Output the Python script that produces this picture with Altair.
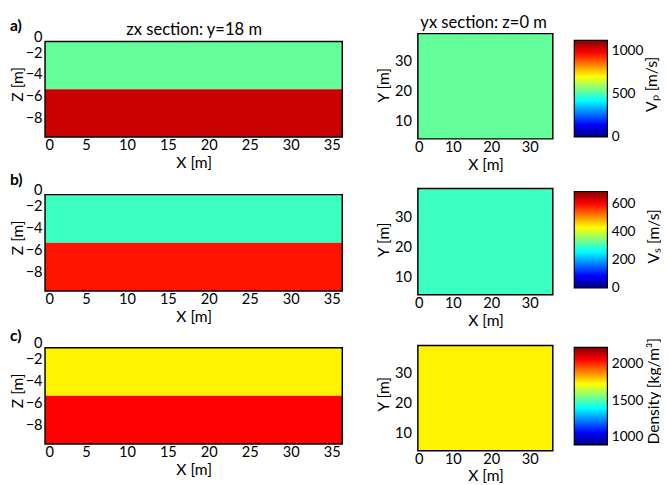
import altair as alt
import pandas as pd

# ---------------- data ----------------
x_left_extent = [0.0, 36.3]          # zx section, X range [m]
z_layer_top = [-1.0, -5.4]           # layer tops [m]
z_layer_bot = [-5.4, -9.8]           # layer bottoms [m]
x_right_extent = [0.9, 36.0]         # yx section, X range [m]
y_right_extent = [3.8, 39.2]         # yx section, Y range [m]

vp_layers = [530, 1040]              # m/s
vs_layers = [300, 590]               # m/s
rho_layers = [1740, 2060]            # kg/m^3

vp_range = [0, 1120]
vs_range = [0, 690]
rho_range = [880, 2230]

vp_ticks = [0, 500, 1000]
vs_ticks = [0, 200, 400, 600]
rho_ticks = [1000, 1500, 2000]

x_ticks_left = [0, 5, 10, 15, 20, 25, 30, 35]
z_ticks = [0, -2, -4, -6, -8]
x_ticks_right = [0, 10, 20, 30]
y_ticks_right = [10, 20, 30]

panel_labels = ["a)", "b)", "c)"]
cbar_titles = ["Vₚ [m/s]", "Vₛ [m/s]", "Density [kg/m³]"]
zx_title = "zx section: y=18 m"
yx_title = "yx section: z=0 m"

jet_colors = ["#000080", "#0000ff", "#00ffff", "#ffff00", "#ff0000", "#800000"]
jet_stops = [0, 0.125, 0.375, 0.625, 0.875, 1.0]

FONT = "Lato"

# ---------------- layout (pixels) ----------------
left_rect_h = [98, 99, 99]
right_ext = [3, 5, 9]          # blank band above the yx frame
right_frame_h = [108, 109, 108]
cb_top_off = [10, 8, 11]
cb_h = [99, 99, 100]
cb_title_x = [37, 39, 39]
label_off = [-13, -5, -8]
LEFT_RECT_W, LEFT_EXTRA_W = 305, 14
RIGHT_W, CB_W = 142, 34
X_TITLE_Y = 18


def color_scale(rng):
    dom = [rng[0] + s * (rng[1] - rng[0]) for s in jet_stops]
    return alt.Scale(domain=dom, range=jet_colors, interpolate="rgb")


def left_chart(values, rng, i):
    zlo, zhi = z_layer_bot[-1], z_layer_top[0]
    ppu = left_rect_h[i] / (zhi - zlo)
    height = round(left_rect_h[i] + (0 - zhi) * ppu)
    x_hi = x_left_extent[1] * (LEFT_RECT_W + LEFT_EXTRA_W) / LEFT_RECT_W
    df = pd.DataFrame({"x0": [x_left_extent[0]] * 2, "x1": [x_left_extent[1]] * 2,
                       "zt": z_layer_top, "zb": z_layer_bot, "v": values})
    frame_df = pd.DataFrame({"x0": [x_left_extent[0]], "x1": [x_left_extent[1]],
                             "zt": [zhi], "zb": [zlo]})
    xs = alt.Scale(domain=[x_left_extent[0], x_hi], nice=False, zero=False)
    ys = alt.Scale(domain=[zlo, 0], nice=False, zero=False)
    fill = alt.Chart(df).mark_rect().encode(
        x=alt.X("x0:Q", scale=xs, axis=alt.Axis(
            orient="bottom", values=x_ticks_left, title="X [m]", ticks=False,
            labelPadding=1, titleX=LEFT_RECT_W / 2, titleY=X_TITLE_Y, titleBaseline="top",
            domain=False, grid=False)),
        x2="x1",
        y=alt.Y("zt:Q", scale=ys, axis=alt.Axis(
            orient="left", values=z_ticks, title="Z [m]", ticks=False,
            labelPadding=3, titleX=-20, domain=False, grid=False,
            labelOffset={"condition": {"test": "datum.value == 0", "value": 6}, "value": 0})),
        y2="zb",
        color=alt.Color("v:Q", scale=color_scale(rng), legend=None),
    )
    if i == 0:
        top_axis = alt.Axis(orient="top", labels=False, ticks=False, domain=False, grid=False,
                            title=zx_title, titleFontSize=17, titleX=LEFT_RECT_W / 2,
                            titleY=8, titleBaseline="bottom")
    else:
        top_axis = None
    frame = alt.Chart(frame_df).mark_rect(fillOpacity=0, stroke="black", strokeWidth=1.5).encode(
        x=alt.X("x0:Q", scale=xs, axis=top_axis),
        x2="x1",
        y=alt.Y("zt:Q", scale=ys, axis=None),
        y2="zb",
    )
    return alt.layer(fill, frame).resolve_axis(x="independent", y="independent").properties(
        width=LEFT_RECT_W + LEFT_EXTRA_W, height=height,
        title=alt.TitleParams(panel_labels[i], anchor="start", frame="bounds",
                              fontWeight="bold", fontSize=16, offset=label_off[i]))


def right_chart(values, rng, i):
    df = pd.DataFrame({"x0": [x_right_extent[0]], "x1": [x_right_extent[1]],
                       "y0": [y_right_extent[0]], "y1": [y_right_extent[1]], "v": [values[0]]})
    y_top = y_right_extent[1] + right_ext[i] * (y_right_extent[1] - y_right_extent[0]) / right_frame_h[i]
    xs = alt.Scale(domain=[0, x_right_extent[1]], nice=False, zero=False)
    ys = alt.Scale(domain=[y_right_extent[0], y_top], nice=False, zero=False)
    fill = alt.Chart(df).mark_rect().encode(
        x=alt.X("x0:Q", scale=xs, axis=alt.Axis(
            orient="bottom", values=x_ticks_right, title="X [m]", ticks=False,
            labelPadding=1, titleX=73, titleY=X_TITLE_Y, titleBaseline="top",
            domain=False, grid=False)),
        x2="x1",
        y=alt.Y("y0:Q", scale=ys, axis=alt.Axis(
            orient="left", values=y_ticks_right, title="Y [m]", ticks=False,
            labelPadding=3, titleX=-24, domain=False, grid=False)),
        y2="y1",
        color=alt.Color("v:Q", scale=color_scale(rng), legend=None),
    )
    frame = alt.Chart(df).mark_rect(fillOpacity=0, stroke="black", strokeWidth=1.5).encode(
        x=alt.X("x0:Q", scale=xs, axis=None),
        x2="x1",
        y=alt.Y("y0:Q", scale=ys, axis=None),
        y2="y1",
    )
    ch = alt.layer(fill, frame).resolve_axis(x="independent", y="independent").properties(
        width=RIGHT_W, height=right_ext[i] + right_frame_h[i])
    if i == 0:
        ch = ch.properties(title=alt.TitleParams(yx_title, fontSize=17, offset=-1))
    return ch


def colorbar(rng, ticks, title, i):
    ext_top = rng[1] + cb_top_off[i] * (rng[1] - rng[0]) / cb_h[i]
    df = pd.DataFrame({"lo": [rng[0]], "hi": [rng[1]]})
    grad = alt.Gradient(
        gradient="linear",
        stops=[alt.GradientStop(color=c, offset=o) for c, o in zip(jet_colors, jet_stops)],
        x1=0, x2=0, y1=1, y2=0)
    return alt.Chart(df).mark_rect(fill=grad, stroke="black", strokeWidth=1.2).encode(
        y=alt.Y("lo:Q", scale=alt.Scale(domain=[rng[0], ext_top], nice=False, zero=False),
                axis=alt.Axis(orient="right", values=ticks, format="d", title=title,
                              titleAngle=270, titleBaseline="top", titleX=cb_title_x[i],
                              ticks=False, labelPadding=4, labelFontSize=14,
                              domain=False, grid=False)),
        y2="hi",
    ).properties(width=CB_W, height=cb_top_off[i] + cb_h[i])


rows = [(vp_layers, vp_range, vp_ticks), (vs_layers, vs_range, vs_ticks),
        (rho_layers, rho_range, rho_ticks)]
panels = []
for i, (vals, rng, ticks) in enumerate(rows):
    panels.append(left_chart(vals, rng, i))
    panels.append(right_chart(vals, rng, i))
    panels.append(colorbar(rng, ticks, cbar_titles[i], i))

chart = alt.concat(*panels, columns=3, spacing={"row": 0, "column": 20}).resolve_scale(
    color="independent"
).properties(
    padding={"left": 2, "top": 0, "right": 0, "bottom": 0}
).configure_view(strokeWidth=0).configure_axis(
    labelFont=FONT, titleFont=FONT, labelFontSize=15, titleFontSize=16,
    labelColor="black", titleColor="black", titleFontWeight="normal",
).configure_title(font=FONT, color="black", fontWeight="normal")

chart.save("out.html", embed_options={"renderer": "svg", "actions": False})
